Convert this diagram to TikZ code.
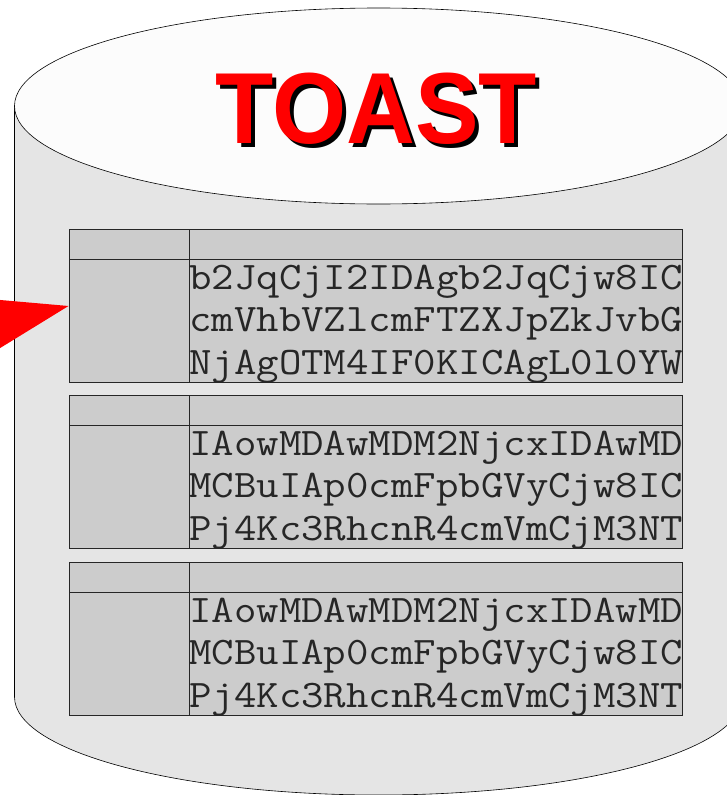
\documentclass[tikz,border=0pt]{standalone}
\usepackage{fontspec}
\setmainfont{Liberation Sans}
\newfontfamily\cellfont[FakeStretch=1.118]{Latin Modern Mono}
\definecolor{cylside}{HTML}{E5E5E5}
\definecolor{cyltop}{HTML}{FCFCFC}
\definecolor{cellgrey}{HTML}{CCCCCC}
\definecolor{rulegrey}{HTML}{262626}
\tikzset{
  cyl/.style={draw=black,line width=0.6pt},
  cell/.style={draw=rulegrey,fill=cellgrey,line width=0.8pt,inner sep=0pt,minimum width=0pt},
  code/.style={anchor=base west,inner sep=0pt,text=black!85,font=\cellfont\fontsize{39}{39}\selectfont},
  title/.style={inner sep=0pt,anchor=base,font=\fontsize{101}{101}\selectfont\bfseries},
}
\newcommand{\tbl}[5]{%
  \node[cell,anchor=north west,minimum width=120pt,minimum height=30pt] (#1a) at (69,#2) {};
  \node[cell,anchor=north west,minimum width=493pt,minimum height=30pt] (#1b) at (189,#2) {};
  \node[cell,anchor=north west,minimum width=120pt,minimum height=123pt] (#1c) at (69,#2+30) {};
  \node[cell,anchor=north west,minimum width=493pt,minimum height=123pt] (#1d) at (189,#2+30) {};
  \node[code] (#1l1) at (189,#2+60) {#3};
  \node[code] (#1l2) at (189,#2+102.5) {#4};
  \node[code] (#1l3) at (189,#2+145) {#5};
}
\begin{document}
\begin{tikzpicture}[x=1pt,y=-1pt]
\useasboundingbox (0,0) rectangle (727,795);
\clip (0,0) rectangle (727,795);
\path[cyl,fill=cylside] (14.5,106) -- (14.5,697) arc[start angle=180,end angle=360,x radius=364,y radius=-98] -- (742.5,106) -- cycle;
\path[cyl,fill=cyltop] (378.5,106) ellipse[x radius=364,y radius=98];
\node[title,text=black] (shadow) at (380.5,147.5) {\scalebox{.944}[1]{TOAST}};
\node[title,text=red] (toast) at (376.5,143.5) {\scalebox{.944}[1]{TOAST}};
\tbl{one}{229}{b2JqCjI2IDAgb2JqCjw8IC}{cmVhbVZlcmFTZXJpZkJvbG}{NjAgOTM4IF0KICAgL0l0YW}
\tbl{two}{395}{IAowMDAwMDM2NjcxIDAwMD}{MCBuIAp0cmFpbGVyCjw8IC}{Pj4Kc3RhcnR4cmVmCjM3NT}
\tbl{three}{562}{IAowMDAwMDM2NjcxIDAwMD}{MCBuIAp0cmFpbGVyCjw8IC}{Pj4Kc3RhcnR4cmVmCjM3NT}
\coordinate (tail1) at (-20,298.2);
\coordinate (tail2) at (-20,360.4);
\coordinate (tip) at (68.5,306);
\fill[red] (tail1) -- (tip) -- (tail2) -- cycle;
\end{tikzpicture}
\end{document}
